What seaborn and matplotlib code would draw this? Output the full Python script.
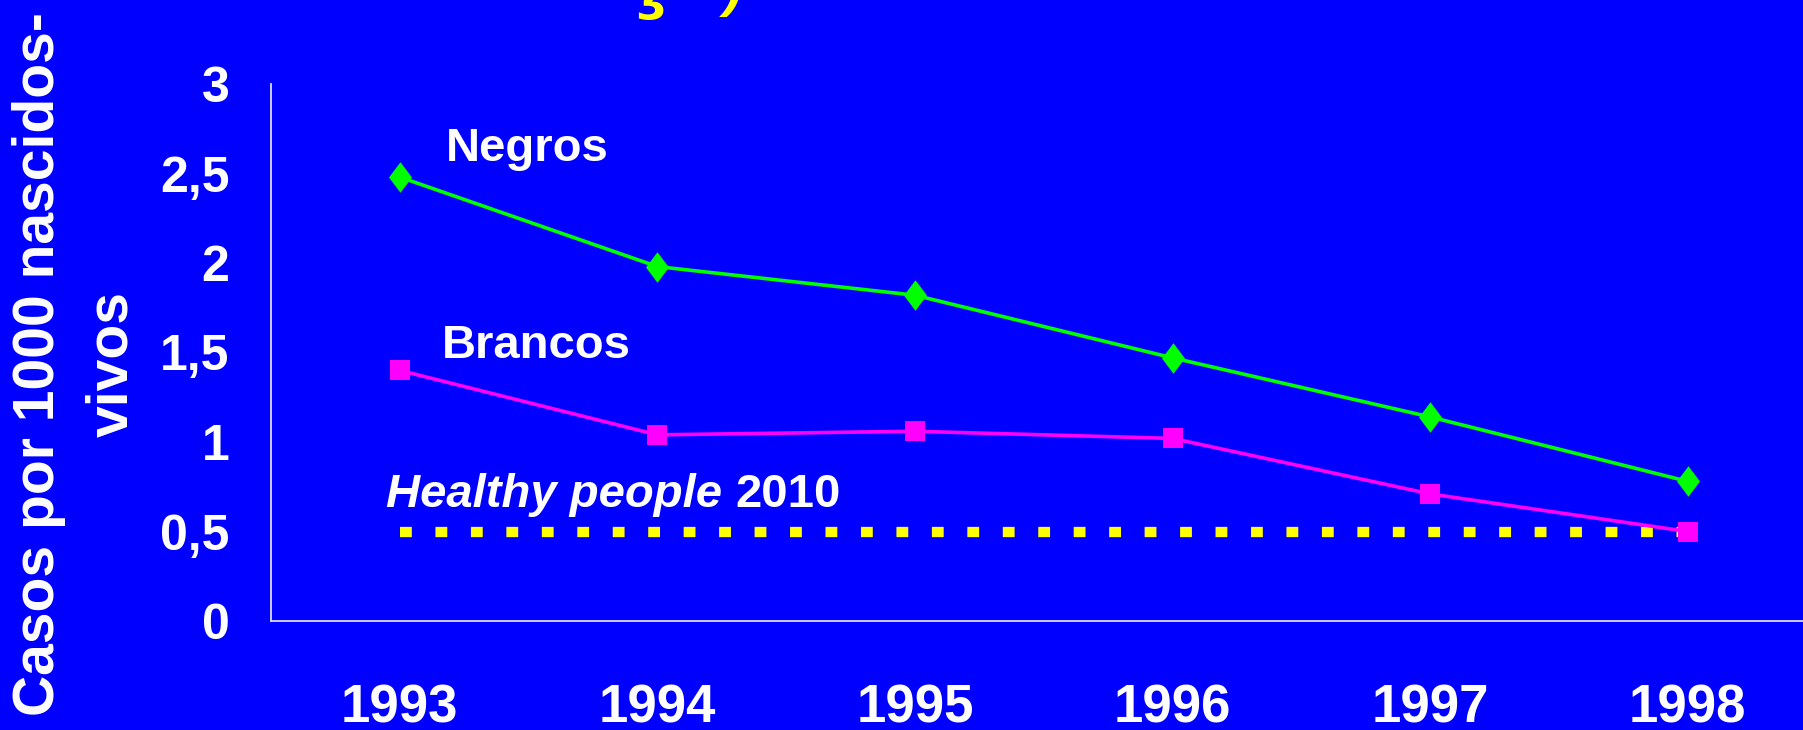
import matplotlib
matplotlib.use("Agg")
import pandas as pd
import matplotlib.pyplot as plt
from matplotlib import font_manager
from matplotlib.path import Path
import seaborn as sns

# Sifilis congenita, casos por 1000 nascidos-vivos
years = ["1993", "1994", "1995", "1996", "1997", "1998"]
negros = [2.48, 1.98, 1.82, 1.47, 1.14, 0.78]
brancos = [1.40, 1.04, 1.06, 1.02, 0.71, 0.50]
meta_2010 = [0.5, 0.5, 0.5, 0.5, 0.5, 0.5]
ytick_values = [0, 0.5, 1, 1.5, 2, 2.5, 3]
ytick_labels = ["0", "0,5", "1", "1,5", "2", "2,5", "3"]

BLUE = "#0000FF"
GREEN = "#00FF00"
MAGENTA = "#FF00FF"
YELLOW = "#FFFF00"
AXIS = "#dcdcff"

sns.set_theme(style="white", rc={"axes.facecolor": BLUE, "figure.facecolor": BLUE})
plt.rcParams["font.family"] = ["Liberation Sans", "DejaVu Sans"]

# narrow font for the year labels, if there is one
fonts = font_manager.fontManager.ttflist
year_font = dict(family="Liberation Sans", fontsize=38)
if any(f.name == "Liberation Sans Narrow" for f in fonts):
    year_font = dict(family="Liberation Sans Narrow", fontsize=42)

df = pd.DataFrame({"pos": range(len(years)), "year": years,
                   "negros": negros, "brancos": brancos, "meta": meta_2010})

fig = plt.figure(figsize=(18.03, 7.30), dpi=100)
ax = fig.add_axes([271 / 1803, 1 - 621 / 730, 1545.6 / 1803, 537 / 730])

# tall diamond like the original
diamond = Path([(0, 1), (0.75, 0), (0, -1), (-0.75, 0), (0, 1)],
               [Path.MOVETO, Path.LINETO, Path.LINETO, Path.LINETO, Path.CLOSEPOLY])

sns.lineplot(ax=ax, data=df, x="pos", y="meta", color=YELLOW, lw=7.4,
             linestyle=(0, (1.15, 2.3)), dash_capstyle="butt")
sns.lineplot(ax=ax, data=df, x="pos", y="brancos", color=MAGENTA, lw=2.6,
             marker="s", markersize=15, markeredgewidth=0, markerfacecolor=MAGENTA)
sns.lineplot(ax=ax, data=df, x="pos", y="negros", color=GREEN, lw=2.6,
             marker=diamond, markersize=22, markeredgewidth=0, markerfacecolor=GREEN)

ax.set_xlim(-0.5, len(years) - 0.5)
ax.set_ylim(0, 3)

for s in ["top", "right"]:
    ax.spines[s].set_visible(False)
for s in ["left", "bottom"]:
    ax.spines[s].set_color(AXIS)
    ax.spines[s].set_linewidth(1.3)

ax.set_yticks(ytick_values)
ax.set_yticklabels(ytick_labels, fontsize=36, fontweight="bold", color="white")
ax.tick_params(axis="y", direction="out", length=7, width=1.2, color=AXIS, pad=23)

ax.set_xticks(df["pos"])
ax.set_xticklabels(years, fontweight="bold", color="white", **year_font)
ax.tick_params(axis="x", which="major", length=0, pad=45)
ax.set_xticks([p - 0.5 for p in df["pos"]] + [len(years) - 0.5], minor=True)
ax.tick_params(axis="x", which="minor", direction="out", length=11, width=1.2, color=AXIS)
ax.set_xlabel("")
ax.set_ylabel("")

ax.text(0.18, 2.57, "Negros", fontsize=34, fontweight="bold", color="white", va="baseline")
ax.text(0.165, 1.47, "Brancos", fontsize=34, fontweight="bold", color="white", va="baseline")
t1 = ax.text(-0.054, 0.637, "Healthy people ", fontsize=34, fontweight="bold",
             style="italic", color="white", va="baseline")
fig.canvas.draw()
bb = t1.get_window_extent()
x_end = ax.transData.inverted().transform((bb.x1, bb.y0))[0]
ax.text(x_end, 0.637, "2010", fontsize=34, fontweight="bold", color="white", va="baseline")

fig.text(0.042, 0.501, "Casos por 1000 nascidos-\nvivos", rotation=90, ha="center",
         va="center", multialignment="center", fontsize=41, fontweight="bold",
         color="white", linespacing=1.47)

# bottom remains of the cut-off title
fig.text(636 / 1803, 1 - 20 / 730, "\u0292", fontsize=32, fontweight="bold",
         color=YELLOW, va="bottom", family="DejaVu Sans")
fig.text(724 / 1803, 1 - 17 / 730, ")", fontsize=40, fontweight="bold", style="italic",
         color=YELLOW, va="bottom")

fig.savefig("out.png", dpi=100, facecolor=BLUE)
